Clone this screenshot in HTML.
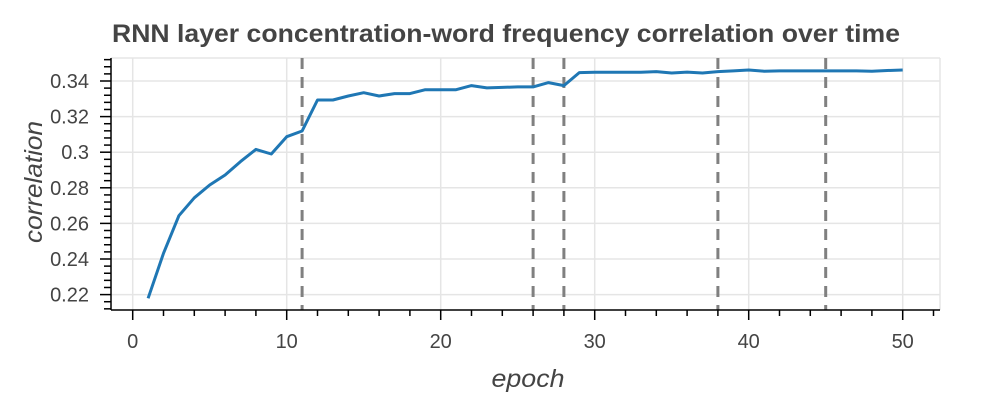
<!DOCTYPE html>
<html><head><meta charset="utf-8"><style>
body{margin:0;background:#fff;}
svg text{font-family:"Liberation Sans",sans-serif;fill:#444;}
</style></head><body>
<svg id="chart" width="1000" height="400" xmlns="http://www.w3.org/2000/svg">
<text x="506" y="42" text-anchor="middle" font-size="25" font-weight="bold" textLength="788" lengthAdjust="spacingAndGlyphs">RNN layer concentration-word frequency correlation over time</text>
<g id="grid"></g>
<g id="vlines"></g>
<g id="series"></g>
<g id="axes"></g>
<text x="528" y="387" text-anchor="middle" font-size="25" font-style="italic" textLength="73" lengthAdjust="spacingAndGlyphs">epoch</text>
<text transform="translate(42,182) rotate(-90)" text-anchor="middle" font-size="25" font-style="italic" textLength="122" lengthAdjust="spacingAndGlyphs">correlation</text>
</svg>
<script>
const epochs=[1,2,3,4,5,6,7,8,9,10,11,12,13,14,15,16,17,18,19,20,21,22,23,24,25,26,27,28,29,30,31,32,33,34,35,36,37,38,39,40,41,42,43,44,45,46,47,48,49,50];
const correlation=[0.2179,0.2432,0.2643,0.2744,0.2816,0.2872,0.2947,0.3016,0.2990,0.3087,0.3119,0.3293,0.3293,0.3316,0.3334,0.3316,0.3329,0.3329,0.3351,0.3351,0.3351,0.3374,0.3361,0.3364,0.3367,0.3367,0.3391,0.3374,0.3447,0.3449,0.3449,0.3449,0.3449,0.3453,0.3445,0.3450,0.3445,0.3453,0.3457,0.3462,0.3455,0.3457,0.3457,0.3457,0.3457,0.3457,0.3457,0.3455,0.3459,0.3462];
const markerEpochs=[11,26,28,38,45];
const xTicks=[0,10,20,30,40,50];
const yTicks=[0.22,0.24,0.26,0.28,0.30,0.32,0.34];
const yTickLabels=["0.22","0.24","0.26","0.28","0.3","0.32","0.34"];
const NS="http://www.w3.org/2000/svg";
const L=111,R=940,T=58,B=310;
function sx(v){return 132.7+v*15.4;}
function sy(v){return 81+(0.34-v)*1780;}
function mk(tag,attrs,parent){const e=document.createElementNS(NS,tag);for(const k in attrs)e.setAttribute(k,attrs[k]);parent.appendChild(e);return e;}
const grid=document.getElementById('grid'),axes=document.getElementById('axes'),vl=document.getElementById('vlines'),ser=document.getElementById('series');
xTicks.forEach(t=>{const l=mk('line',{x1:sx(t),x2:sx(t),y1:T,y2:B,stroke:'#e5e5e5','stroke-width':1.5},grid);

});
yTicks.forEach(t=>{const l=mk('line',{x1:L,x2:R,y1:sy(t),y2:sy(t),stroke:'#e5e5e5','stroke-width':1.5},grid);

});
mk('line',{x1:R,x2:R,y1:T,y2:B,stroke:'#e5e5e5','stroke-width':1.5},grid);
mk('line',{x1:L,x2:R,y1:T,y2:T,stroke:'#e5e5e5','stroke-width':1.5},grid);
markerEpochs.forEach(m=>{const l=mk('line',{x1:sx(m),x2:sx(m),y1:T,y2:B,stroke:'#808080','stroke-width':3,'stroke-dasharray':'11 8'},vl);

});
const pts=epochs.map((e,i)=>sx(e).toFixed(1)+','+sy(correlation[i]).toFixed(1)).join(' ');
const pl=mk('polyline',{points:pts,fill:'none',stroke:'#1f77b4','stroke-width':3,'stroke-linejoin':'round'},ser);


mk('line',{x1:L,x2:R,y1:B,y2:B,stroke:'#000','stroke-width':1.5},axes);
mk('line',{x1:L,x2:L,y1:T,y2:B,stroke:'#000','stroke-width':1.5},axes);
for(let v=0;v<=52;v+=2){if(sx(v)>R)break;const major=v%10===0;mk('line',{x1:sx(v),x2:sx(v),y1:B,y2:B+(major?10:6),stroke:'#000','stroke-width':1.5},axes);}
for(let k=-5;k<=60;k++){const v=0.22+k*0.004;const y=sy(v);if(y<T||y>B)continue;const major=k%5===0;mk('line',{x1:L-(major?11:7),x2:L,y1:y,y2:y,stroke:'#000','stroke-width':1.5},axes);}
xTicks.forEach(t=>{const tx=mk('text',{x:sx(t),y:B+38,'text-anchor':'middle','font-size':20},axes);tx.textContent=t;

});
yTicks.forEach((t,i)=>{const tx=mk('text',{x:L-22,y:sy(t)+7,'text-anchor':'end','font-size':20},axes);tx.textContent=yTickLabels[i];

});
</script>
</body></html>
